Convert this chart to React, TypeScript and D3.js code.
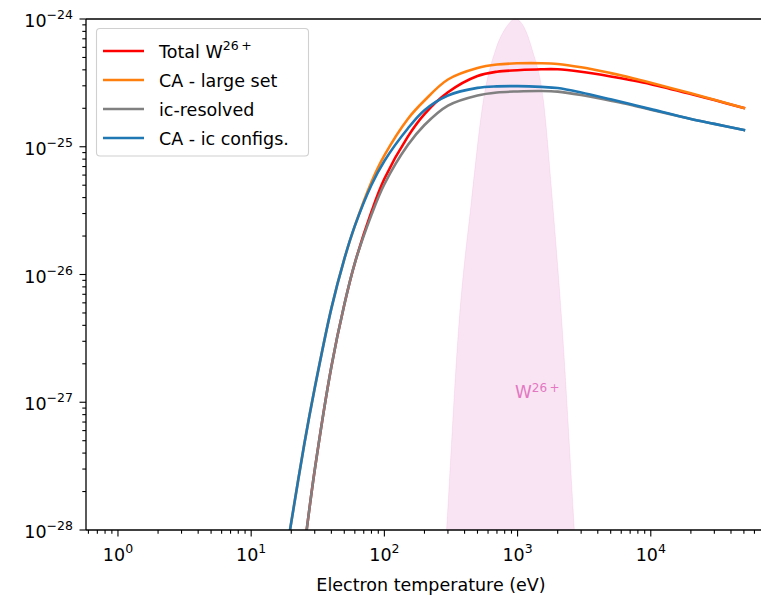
import React, { useEffect, useRef } from "react"
import * as d3 from "d3"

// electron temperature grid (eV)
const temperature = [18, 20, 25, 30, 40, 50, 60, 80, 100, 150, 200, 300, 500, 700, 1000, 1500, 2000, 3000, 5000, 7000, 10000, 20000, 30000, 50000]

const totalW26 = [5e-30, 1.3e-29, 7.13e-29, 2.95e-28, 1.9e-27, 5.8e-27, 1.23e-26, 3.1e-26, 5.61e-26, 1.2e-25, 1.8e-25, 2.67e-25, 3.58e-25, 3.87e-25, 3.97e-25, 4.04e-25, 4.04e-25, 3.86e-25, 3.55e-25, 3.33e-25, 3.09e-25, 2.59e-25, 2.32e-25, 2.01e-25]
const caLargeSet = [5.85e-29, 1.15e-28, 4.65e-28, 1.29e-27, 5.43e-27, 1.32e-26, 2.4e-26, 5.3e-26, 8.55e-26, 1.65e-25, 2.3e-25, 3.36e-25, 4.13e-25, 4.4e-25, 4.5e-25, 4.51e-25, 4.45e-25, 4.19e-25, 3.77e-25, 3.49e-25, 3.17e-25, 2.62e-25, 2.33e-25, 2.01e-25]
const icResolved = [5e-30, 1.3e-29, 7.13e-29, 2.95e-28, 1.9e-27, 5.8e-27, 1.23e-26, 2.93e-26, 5.09e-26, 1.03e-25, 1.48e-25, 2.1e-25, 2.52e-25, 2.66e-25, 2.71e-25, 2.73e-25, 2.7e-25, 2.54e-25, 2.29e-25, 2.13e-25, 1.95e-25, 1.65e-25, 1.51e-25, 1.35e-25]
const caIcConfigs = [5.85e-29, 1.15e-28, 4.65e-28, 1.29e-27, 5.43e-27, 1.32e-26, 2.4e-26, 5.02e-26, 7.74e-26, 1.39e-25, 1.93e-25, 2.52e-25, 2.89e-25, 2.97e-25, 2.98e-25, 2.94e-25, 2.88e-25, 2.66e-25, 2.35e-25, 2.16e-25, 1.97e-25, 1.65e-25, 1.51e-25, 1.35e-25]

// W26+ fractional abundance band (scaled onto the rate axis)
const abundanceT = [264, 293, 360, 451, 554, 682, 820, 962, 1120, 1291, 1561, 1824, 2168, 2667, 2958]
const abundanceV = [1.66e-29, 1e-28, 3.68e-27, 3.83e-26, 2.32e-25, 5.7e-25, 8.6e-25, 1e-24, 8.6e-25, 5.7e-25, 2.32e-25, 3.83e-26, 3.68e-27, 1e-28, 1.66e-29]

const seriesNames = ["Total W", "CA - large set", "ic-resolved", "CA - ic configs."]
const seriesColors = ["#ff0000", "#ff7f0e", "#808080", "#1f77b4"]
const seriesValues = [totalW26, caLargeSet, icResolved, caIcConfigs]

const xExponents = [0, 1, 2, 3, 4]
const yExponents = [-28, -27, -26, -25, -24]

const W = 761
const H = 596
const FONT = "DejaVu Sans, sans-serif"

function App() {
  const ref = useRef(null)

  useEffect(() => {
    const svg = d3.select(ref.current)
    svg.selectAll("*").remove()

    const left = 86, top = 19, bottom = 530, right = 776

    const x = d3.scaleLog().domain([Math.pow(10, -0.24), Math.pow(10, 4.94)]).range([left, right])
    const y = d3.scaleLog().domain([1e-28, 1e-24]).range([bottom, top])

    svg.append("rect").attr("width", W).attr("height", H).attr("fill", "white")

    svg.append("defs").append("clipPath").attr("id", "plotclip")
      .append("rect").attr("x", left).attr("y", top).attr("width", right - left).attr("height", bottom - top)

    const plot = svg.append("g").attr("clip-path", "url(#plotclip)")

    // abundance band
    const band = abundanceT.map((t, i) => [t, abundanceV[i]])
    const area = d3.area()
      .x(d => x(d[0]))
      .y0(bottom + 50)
      .y1(d => y(d[1]))
      .curve(d3.curveMonotoneX)
    plot.append("path")
      .attr("d", area(band))
      .attr("fill", "#e377c2")
      .attr("fill-opacity", 0.2)
      .attr("stroke", "#e377c2")
      .attr("stroke-opacity", 0.15)
      .attr("stroke-width", 1)

    plot.append("text")
      .attr("x", 515)
      .attr("y", y(1.2e-27) + 6)
      .attr("font-family", FONT)
      .attr("font-size", 17)
      .attr("fill", "#e377c2")
      .call(t => {
        t.append("tspan").text("W")
        t.append("tspan").attr("dy", -6).attr("font-size", 12).text("26\u2009+")
      })

    const line = d3.line()
      .x(d => x(d[0]))
      .y(d => y(d[1]))
      .curve(d3.curveCatmullRom.alpha(0.5))

    seriesValues.forEach((vals, i) => {
      plot.append("path")
        .attr("d", line(temperature.map((t, j) => [t, vals[j]])))
        .attr("fill", "none")
        .attr("stroke", seriesColors[i])
        .attr("stroke-width", 2.6)
        .attr("stroke-linejoin", "round")
        .attr("stroke-linecap", "square")
    })

    // spines
    const axes = svg.append("g").attr("stroke", "black").attr("stroke-width", 1.3)
    axes.append("line").attr("x1", left).attr("x2", left).attr("y1", top).attr("y2", bottom)
    axes.append("line").attr("x1", left).attr("x2", right).attr("y1", bottom).attr("y2", bottom)
    axes.append("line").attr("x1", left).attr("x2", right).attr("y1", top).attr("y2", top)
    axes.append("line").attr("x1", right).attr("x2", right).attr("y1", top).attr("y2", bottom)

    // ticks
    const ticks = svg.append("g").attr("stroke", "black").attr("stroke-width", 1.1)
    for (let e = -1; e <= 5; e++) {
      for (let k = 1; k <= 9; k++) {
        const v = k * Math.pow(10, e)
        const px = x(v)
        if (px < left - 0.5 || px > right + 0.5) continue
        const len = k === 1 ? 6.5 : 3.7
        ticks.append("line").attr("x1", px).attr("x2", px).attr("y1", bottom).attr("y2", bottom + len)
      }
    }
    for (let e = -29; e <= -24; e++) {
      for (let k = 1; k <= 9; k++) {
        const v = k * Math.pow(10, e)
        const py = y(v)
        if (py < top - 0.5 || py > bottom + 0.5) continue
        const len = k === 1 ? 6.5 : 3.7
        ticks.append("line").attr("x1", left - len).attr("x2", left).attr("y1", py).attr("y2", py)
      }
    }

    const labels = svg.append("g").attr("font-family", FONT).attr("font-size", 17.5).attr("fill", "black")
    xExponents.forEach(e => {
      const t = labels.append("text")
        .attr("x", x(Math.pow(10, e)))
        .attr("y", 561)
        .attr("text-anchor", "middle")
      t.append("tspan").text("10")
      t.append("tspan").attr("dy", -8).attr("font-size", 12.5).text(String(e))
    })
    yExponents.forEach(e => {
      const t = labels.append("text")
        .attr("x", 73)
        .attr("y", y(Math.pow(10, e)) + 8)
        .attr("text-anchor", "end")
      t.append("tspan").text("10")
      t.append("tspan").attr("dy", -8).attr("font-size", 12.5).text("\u2212" + Math.abs(e))
    })

    labels.append("text")
      .attr("x", (left + right) / 2)
      .attr("y", 591)
      .attr("text-anchor", "middle")
      .text("Electron temperature (eV)")

    // legend
    const lg = svg.append("g")
    lg.append("rect")
      .attr("x", 96.5).attr("y", 28.5)
      .attr("width", 212).attr("height", 127.5)
      .attr("rx", 3.5)
      .attr("fill", "white").attr("fill-opacity", 0.8)
      .attr("stroke", "#d0d0d0").attr("stroke-width", 1.1)

    seriesNames.forEach((name, i) => {
      const cy = 51 + i * 29
      lg.append("line")
        .attr("x1", 103).attr("x2", 144)
        .attr("y1", cy).attr("y2", cy)
        .attr("stroke", seriesColors[i]).attr("stroke-width", 2.6)
      const t = lg.append("text")
        .attr("x", 159).attr("y", cy + 6.5)
        .attr("font-family", FONT).attr("font-size", 17.5).attr("fill", "black")
      t.append("tspan").text(name)
      if (i === 0) t.append("tspan").attr("dy", -8).attr("font-size", 12.5).text("26\u2009+")
    })
  }, [])

  return (
    <div>
      <svg ref={ref} width={W} height={H} style={{ position: "absolute", left: 0, top: 0 }} />
    </div>
  )
}

export default App
